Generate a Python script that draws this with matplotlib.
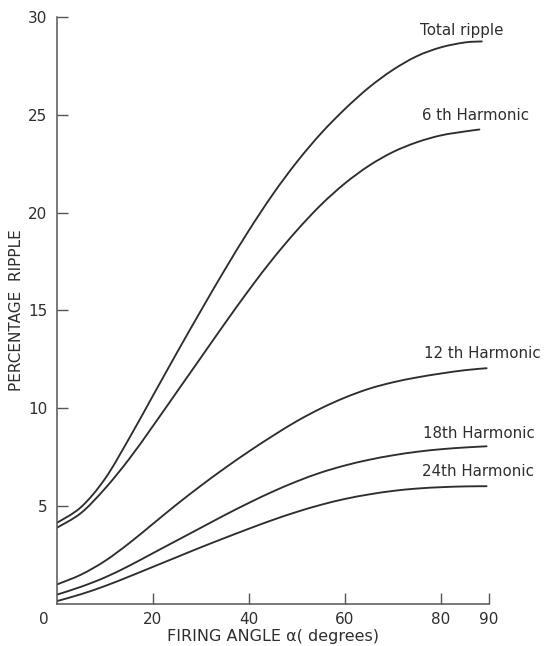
import matplotlib
matplotlib.use("Agg")
import matplotlib.pyplot as plt
from matplotlib.path import Path
from matplotlib.patches import PathPatch

angle = [0, 5, 10, 15, 20, 25, 30, 35, 40, 45, 50, 55, 60, 65, 70, 75, 80, 85, 88.5]
total_ripple = [4.15, 4.95, 6.4, 8.45, 10.65, 12.85, 15.0, 17.1, 19.1, 20.95, 22.6, 24.05, 25.3, 26.4, 27.3, 28.0, 28.45, 28.7, 28.75]
angle_6 = [0, 5, 10, 15, 20, 25, 30, 35, 40, 45, 50, 55, 60, 65, 70, 75, 80, 85, 88]
harm_6 = [3.9, 4.65, 5.9, 7.4, 9.1, 10.85, 12.6, 14.35, 16.05, 17.65, 19.1, 20.4, 21.5, 22.4, 23.1, 23.6, 23.95, 24.15, 24.25]
angle_h = [0, 5, 10, 15, 20, 25, 30, 35, 40, 45, 50, 55, 60, 65, 70, 75, 80, 85, 89.5]
harm_12 = [1.0, 1.5, 2.2, 3.1, 4.1, 5.1, 6.05, 6.95, 7.8, 8.6, 9.35, 10.0, 10.55, 11.0, 11.33, 11.58, 11.78, 11.95, 12.05]
harm_18 = [0.48, 0.88, 1.36, 1.95, 2.6, 3.25, 3.9, 4.55, 5.17, 5.75, 6.27, 6.72, 7.08, 7.37, 7.6, 7.78, 7.91, 8.0, 8.06]
harm_24 = [0.15, 0.5, 0.92, 1.4, 1.9, 2.4, 2.9, 3.38, 3.85, 4.3, 4.71, 5.07, 5.37, 5.6, 5.78, 5.9, 5.97, 6.01, 6.02]

labels = ["Total ripple", "6 th Harmonic", "12 th Harmonic", "18th Harmonic", "24th Harmonic"]
xticks = [20, 40, 60, 80, 90]
yticks = [5, 10, 15, 20, 25, 30]

ink = "#2e2e2e"
plt.rcParams["font.family"] = ["DejaVu Sans"]
fig = plt.figure(figsize=(5.49, 6.46), dpi=100)
ax = fig.add_axes([0.1038, 0.065, 0.7869, 0.9087])


def smooth_path(xs, ys):
    pts = list(zip(xs, ys))
    verts = [pts[0]]
    codes = [Path.MOVETO]
    n = len(pts)
    for i in range(n - 1):
        p0 = pts[i - 1] if i > 0 else pts[i]
        p1 = pts[i]
        p2 = pts[i + 1]
        p3 = pts[i + 2] if i + 2 < n else pts[i + 1]
        c1 = (p1[0] + (p2[0] - p0[0]) / 6.0, p1[1] + (p2[1] - p0[1]) / 6.0)
        c2 = (p2[0] - (p3[0] - p1[0]) / 6.0, p2[1] - (p3[1] - p1[1]) / 6.0)
        verts += [c1, c2, p2]
        codes += [Path.CURVE4] * 3
    return Path(verts, codes)


series = [(angle, total_ripple), (angle_6, harm_6), (angle_h, harm_12), (angle_h, harm_18), (angle_h, harm_24)]
for xs, ys in series:
    patch = PathPatch(smooth_path(xs, ys), facecolor="none", edgecolor=ink, lw=1.35,
                      capstyle="round", joinstyle="round")
    ax.add_patch(patch)

lab_xy = [(75.6, 29.3), (76.0, 24.95), (76.5, 12.8), (76.25, 8.7), (76.0, 6.75)]
for (lx, ly), lab in zip(lab_xy, labels):
    ax.text(lx, ly, lab, fontsize=10.8, color=ink, ha="left", va="center", clip_on=False)

ax.set_xlim(0, 90)
ax.set_ylim(0, 30)
ax.set_xticks(xticks)
ax.set_xticklabels([str(t) for t in xticks])
ax.set_yticks(yticks)
ax.set_yticklabels([str(t) for t in yticks])
ax.tick_params(axis="both", direction="in", length=8, width=1, colors="#555555",
               labelcolor=ink, labelsize=11)
ax.tick_params(axis="x", pad=6)
ax.tick_params(axis="y", pad=7)
ax.text(-0.03, -0.026, "0", transform=ax.transAxes, ha="center", va="center",
        fontsize=11, color=ink)
for s in ["top", "right"]:
    ax.spines[s].set_visible(False)
for s in ["left", "bottom"]:
    ax.spines[s].set_color("#555555")
    ax.spines[s].set_linewidth(1.1)

ax.set_xlabel("FIRING ANGLE \u03b1( degrees)", fontsize=11.5, color=ink, labelpad=1)
ax.set_ylabel("PERCENTAGE  RIPPLE", fontsize=11, color=ink, labelpad=3)

fig.savefig("out.png", dpi=100, facecolor="white")
